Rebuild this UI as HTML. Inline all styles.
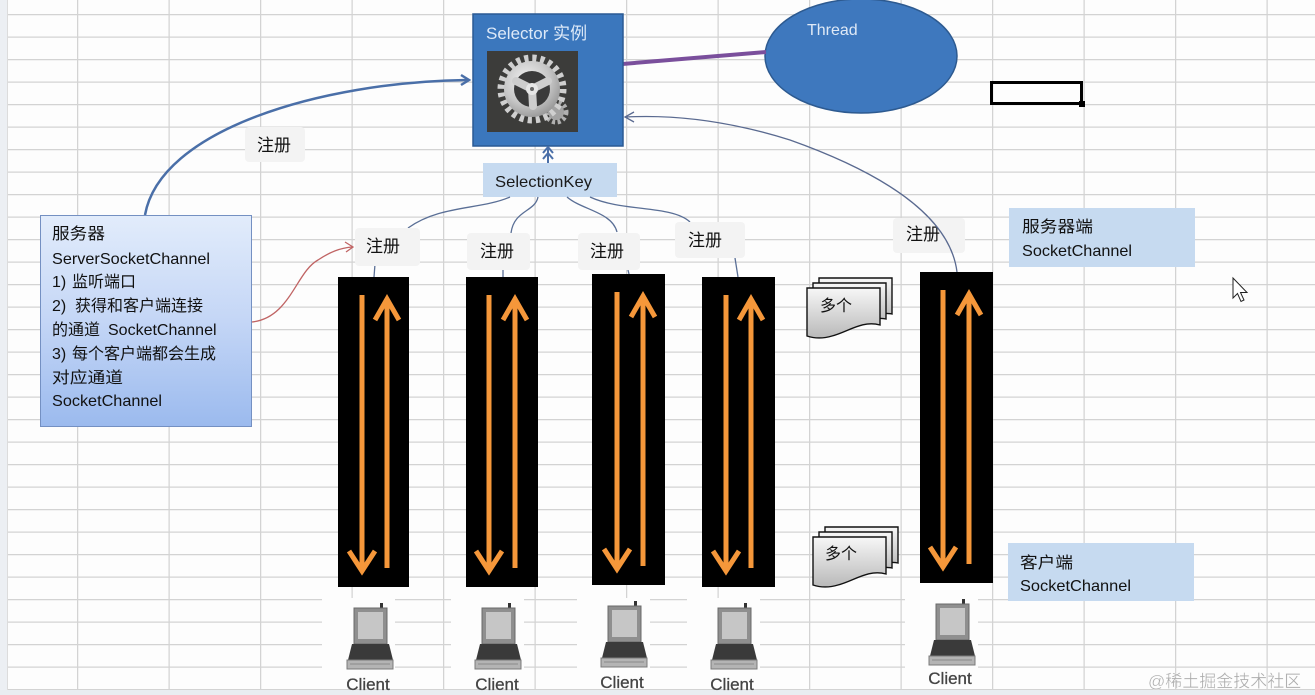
<!DOCTYPE html>
<html><head><meta charset="utf-8">
<style>
html,body{margin:0;padding:0;background:#fdfdfd;}
svg{display:block;}
text{font-family:"Liberation Sans","Noto Sans CJK SC",sans-serif;}
</style></head>
<body>
<svg width="1315" height="695" viewBox="0 0 1315 695" xmlns="http://www.w3.org/2000/svg">
<defs>
  <pattern id="grid" x="77" y="14" width="91.5" height="22.5" patternUnits="userSpaceOnUse">
    <path d="M0,0.6 H91.5 M0.6,0 V22.5" stroke="#d3d3d3" stroke-width="1.3" fill="none"/>
  </pattern>
  <linearGradient id="srv" x1="0" y1="0" x2="0" y2="1">
    <stop offset="0" stop-color="#e2ecfb"/>
    <stop offset="0.5" stop-color="#c4d6f6"/>
    <stop offset="1" stop-color="#9bbaee"/>
  </linearGradient>
  <linearGradient id="doc" x1="0" y1="0" x2="0" y2="1">
    <stop offset="0" stop-color="#f7f7f7"/>
    <stop offset="1" stop-color="#b9b9b9"/>
  </linearGradient>
  <radialGradient id="silver" cx="0.4" cy="0.35" r="0.7">
    <stop offset="0" stop-color="#f2f2f2"/>
    <stop offset="0.6" stop-color="#c6c6c6"/>
    <stop offset="1" stop-color="#959595"/>
  </radialGradient>
  <g id="laptop">
    <rect x="10" y="-3" width="3" height="6" fill="#333"/>
    <rect x="-16" y="2" width="33" height="36" fill="#8f8f8f" stroke="#6a6a6a" stroke-width="1"/>
    <rect x="-12" y="6" width="25" height="27" fill="#c6c6c6"/>
    <path d="M-18,38 H19 L23,54 H-22 Z" fill="#3a3a3a"/>
    <rect x="-23" y="54" width="46" height="9" fill="#b4b4b4" stroke="#7a7a7a" stroke-width="1"/>
    <line x1="-20" y1="58" x2="20" y2="58" stroke="#8a8a8a" stroke-width="1"/>
  </g>
</defs>

<!-- background grid -->
<rect x="0" y="0" width="1315" height="695" fill="#fdfdfd"/>
<rect x="0" y="0" width="7" height="695" fill="#eceff3"/>
<rect x="7" y="0" width="1308" height="690" fill="url(#grid)"/>
<line x1="7.5" y1="0" x2="7.5" y2="690" stroke="#dcdcdc" stroke-width="1"/>
<rect x="0" y="690" width="1315" height="5" fill="#e9edf1"/>

<!-- white areas behind clients -->
<rect x="322" y="598" width="73" height="91" fill="#fdfdfd"/>
<rect x="451" y="598" width="73" height="91" fill="#fdfdfd"/>
<rect x="577" y="598" width="73" height="91" fill="#fdfdfd"/>
<rect x="687" y="598" width="73" height="91" fill="#fdfdfd"/>
<rect x="905" y="598" width="73" height="91" fill="#fdfdfd"/>

<!-- Thread ellipse -->
<ellipse cx="861" cy="56" rx="96" ry="57" fill="#3e78be" stroke="#2d5a90" stroke-width="1.5"/>
<text x="807" y="35" font-size="16" fill="#dfe9f6">Thread</text>

<!-- purple line -->
<line x1="610" y1="65" x2="766" y2="52" stroke="#7a4f9c" stroke-width="4"/>

<!-- Selector box -->
<rect x="473" y="14" width="150" height="132" fill="#3b77bd" stroke="#2b5a93" stroke-width="1.5"/>
<text x="486" y="39" font-size="17" fill="#dde9f8">Selector 实例</text>
<rect x="487" y="51" width="91" height="81" fill="#3c3c3a"/>
<!-- gear -->
<g>
  <circle cx="556" cy="112" r="10" fill="none" stroke="#b0b0b0" stroke-width="5" stroke-dasharray="3 2.5"/>
  <circle cx="556" cy="112" r="8" fill="#a2a2a2"/>
  <circle cx="532" cy="89" r="31" fill="none" stroke="#cfcfcf" stroke-width="7" stroke-dasharray="4.2 3.92"/>
  <circle cx="532" cy="89" r="28" fill="url(#silver)"/>
  <circle cx="532" cy="89" r="18" fill="#3a3a3a"/>
  <g stroke="#cdcdcd" stroke-width="8" stroke-linecap="round">
    <line x1="532" y1="89" x2="516" y2="81"/>
    <line x1="532" y1="89" x2="548" y2="81"/>
    <line x1="532" y1="89" x2="533" y2="106"/>
  </g>
  <circle cx="532" cy="89" r="6" fill="#e6e6e6"/>
  <circle cx="532" cy="89" r="2" fill="#666"/>
</g>

<!-- SelectionKey -->
<rect x="483" y="163" width="134" height="34" fill="#c6daf0"/>
<text x="495" y="187" font-size="16" fill="#1a1a1a" textLength="97" lengthAdjust="spacingAndGlyphs">SelectionKey</text>
<g stroke="#4a6fa8" stroke-width="2" fill="none">
  <line x1="548" y1="163" x2="548" y2="148"/>
  <polyline points="543,153 548,147 553,153"/>
  <polyline points="543,159 548,153 553,159"/>
</g>

<!-- black selection cell -->
<rect x="991.5" y="82.5" width="90" height="21" fill="none" stroke="#000" stroke-width="3"/>
<rect x="1079" y="101" width="6" height="6" fill="#000"/>

<!-- top blue curve -->
<path d="M145,215 C160,130 320,82 467,80" fill="none" stroke="#4a6fa8" stroke-width="2.5"/>
<polyline points="461,75 469,80 461,85" fill="none" stroke="#4a6fa8" stroke-width="2.5"/>

<!-- top 注册 label -->
<rect x="245" y="127" width="60" height="35" rx="4" fill="#f3f3f3"/>
<text x="257" y="151" font-size="17" fill="#111">注册</text>

<!-- server box -->
<rect x="40.5" y="215.5" width="211" height="211" fill="url(#srv)" stroke="#7490c2" stroke-width="1"/>
<g font-size="16" fill="#111">
  <text x="52" y="239" textLength="53" lengthAdjust="spacingAndGlyphs">服务器</text>
  <text x="52" y="264" textLength="158" lengthAdjust="spacingAndGlyphs">ServerSocketChannel</text>
  <text x="52" y="287">1) <tspan x="72">监听端口</tspan></text>
  <text x="52" y="311">2) <tspan x="75">获得和客户端连接</tspan></text>
  <text x="52" y="335">的通道<tspan x="108">SocketChannel</tspan></text>
  <text x="52" y="359">3) <tspan x="72">每个客户端都会生成</tspan></text>
  <text x="52" y="383" textLength="71" lengthAdjust="spacingAndGlyphs">对应通道</text>
  <text x="52" y="406" textLength="110" lengthAdjust="spacingAndGlyphs">SocketChannel</text>
</g>

<!-- red curve -->
<path d="M252,322 C290,318 296,272 318,260 C330,252 340,248 352,247" fill="none" stroke="#c06464" stroke-width="1.3"/>
<polyline points="345,242 353,247 346,252" fill="none" stroke="#c06464" stroke-width="1.3"/>

<!-- curves from SelectionKey -->
<g fill="none" stroke="#5a6f96" stroke-width="1.3">
  <path d="M510,197 C480,210 440,205 408,228"/>
  <path d="M538,197 C535,212 514,210 511,233"/>
  <path d="M567,197 C582,210 612,212 617,232"/>
  <path d="M590,197 C622,212 672,205 690,222"/>
  <line x1="375" y1="264" x2="374" y2="277"/>
  <line x1="503" y1="270" x2="503" y2="277"/>
  <line x1="628" y1="270" x2="629" y2="274"/>
  <line x1="735" y1="258" x2="738" y2="277"/>
</g>

<!-- 注册 labels -->
<g fill="#f3f3f3">
  <rect x="355" y="228" width="65" height="38" rx="4"/>
  <rect x="467" y="233" width="63" height="37" rx="4"/>
  <rect x="578" y="233" width="62" height="37" rx="4"/>
  <rect x="675" y="222" width="70" height="36" rx="4"/>
  <rect x="893" y="218" width="72" height="35" rx="4"/>
</g>
<g font-size="17" fill="#111">
  <text x="366" y="252">注册</text>
  <text x="480" y="257">注册</text>
  <text x="590" y="257">注册</text>
  <text x="688" y="246">注册</text>
  <text x="906" y="240">注册</text>
</g>

<!-- bar5 long curve -->
<path d="M957,272 C950,215 880,172 790,140 C720,118 665,115 626,117" fill="none" stroke="#5a6a90" stroke-width="1.3"/>
<polyline points="634,112 625,117 634,122" fill="none" stroke="#5a6a90" stroke-width="1.3"/>

<!-- bars -->
<rect x="338" y="277" width="71" height="310" fill="#000"/>
<rect x="466" y="277" width="72" height="310" fill="#000"/>
<rect x="592" y="274" width="73" height="311" fill="#000"/>
<rect x="702" y="277" width="73" height="310" fill="#000"/>
<rect x="920" y="272" width="73" height="311" fill="#000"/>

<!-- orange arrows -->
<g stroke="#f5973a" stroke-width="5" fill="none" stroke-linejoin="miter">
  <line x1="362" y1="295" x2="362" y2="571"/>
  <polyline points="349,551 362,571 375,551"/>
  <line x1="387" y1="568" x2="387" y2="299"/>
  <polyline points="375,320 387,299 399,320"/>
  <line x1="489" y1="295" x2="489" y2="571"/>
  <polyline points="476,551 489,571 502,551"/>
  <line x1="515" y1="568" x2="515" y2="299"/>
  <polyline points="503,320 515,299 527,320"/>
  <line x1="617" y1="292" x2="617" y2="569"/>
  <polyline points="604,549 617,569 630,549"/>
  <line x1="643" y1="566" x2="643" y2="296"/>
  <polyline points="631,317 643,296 655,317"/>
  <line x1="726" y1="295" x2="726" y2="571"/>
  <polyline points="713,551 726,571 739,551"/>
  <line x1="751" y1="568" x2="751" y2="299"/>
  <polyline points="739,320 751,299 763,320"/>
  <line x1="943" y1="290" x2="943" y2="567"/>
  <polyline points="930,547 943,567 956,547"/>
  <line x1="969" y1="564" x2="969" y2="294"/>
  <polyline points="957,315 969,294 981,315"/>
</g>

<!-- 多个 stacks -->
<g stroke="#111" stroke-width="1.4" fill="url(#doc)">
  <path d="M819,278 H892 V314 C882,312 878,316 870,318 H819 Z"/>
  <path d="M813,283 H886 V319 C876,317 872,321 864,323 H813 Z"/>
  <path d="M807,288 H880 V325 C862,320 848,332 832,336 C822,339 813,338 807,336 Z"/>
  <path d="M825,527 H898 V563 C888,561 884,565 876,567 H825 Z"/>
  <path d="M819,532 H892 V568 C882,566 878,570 870,572 H819 Z"/>
  <path d="M813,537 H886 V574 C868,569 854,581 838,585 C828,588 819,587 813,585 Z"/>
</g>
<text x="820" y="311" font-size="16" fill="#111">多个</text>
<text x="825" y="559" font-size="16" fill="#111">多个</text>

<!-- right label boxes -->
<rect x="1009" y="208" width="186" height="59" fill="#c6daf0"/>
<text x="1022" y="232" font-size="16" fill="#111" textLength="71" lengthAdjust="spacingAndGlyphs">服务器端</text>
<text x="1022" y="256" font-size="16" fill="#111" textLength="110" lengthAdjust="spacingAndGlyphs">SocketChannel</text>
<rect x="1008" y="543" width="186" height="58" fill="#c6daf0"/>
<text x="1020" y="568" font-size="16" fill="#111" textLength="53" lengthAdjust="spacingAndGlyphs">客户端</text>
<text x="1020" y="591" font-size="16" fill="#111" textLength="111" lengthAdjust="spacingAndGlyphs">SocketChannel</text>

<!-- clients -->
<use href="#laptop" x="370" y="606"/>
<use href="#laptop" x="498" y="606"/>
<use href="#laptop" x="624" y="604"/>
<use href="#laptop" x="734" y="606"/>
<use href="#laptop" x="952" y="602"/>
<g font-size="17" fill="#444" stroke="#444" stroke-width="0.3" text-anchor="middle">
  <text x="368" y="690">Client</text>
  <text x="497" y="690">Client</text>
  <text x="622" y="688">Client</text>
  <text x="732" y="690">Client</text>
  <text x="950" y="684">Client</text>
</g>

<!-- cursor -->
<path d="M1233,278 L1233,298 L1237.5,293.5 L1241,301.5 L1244,300 L1240.5,292.5 L1247,292.5 Z" fill="#fff" stroke="#222" stroke-width="1"/>

<!-- watermark -->
<text x="1148" y="687" font-size="17" fill="#ababab" stroke="#ffffff" stroke-width="0.3">@稀土掘金技术社区</text>
</svg>
</body></html>
